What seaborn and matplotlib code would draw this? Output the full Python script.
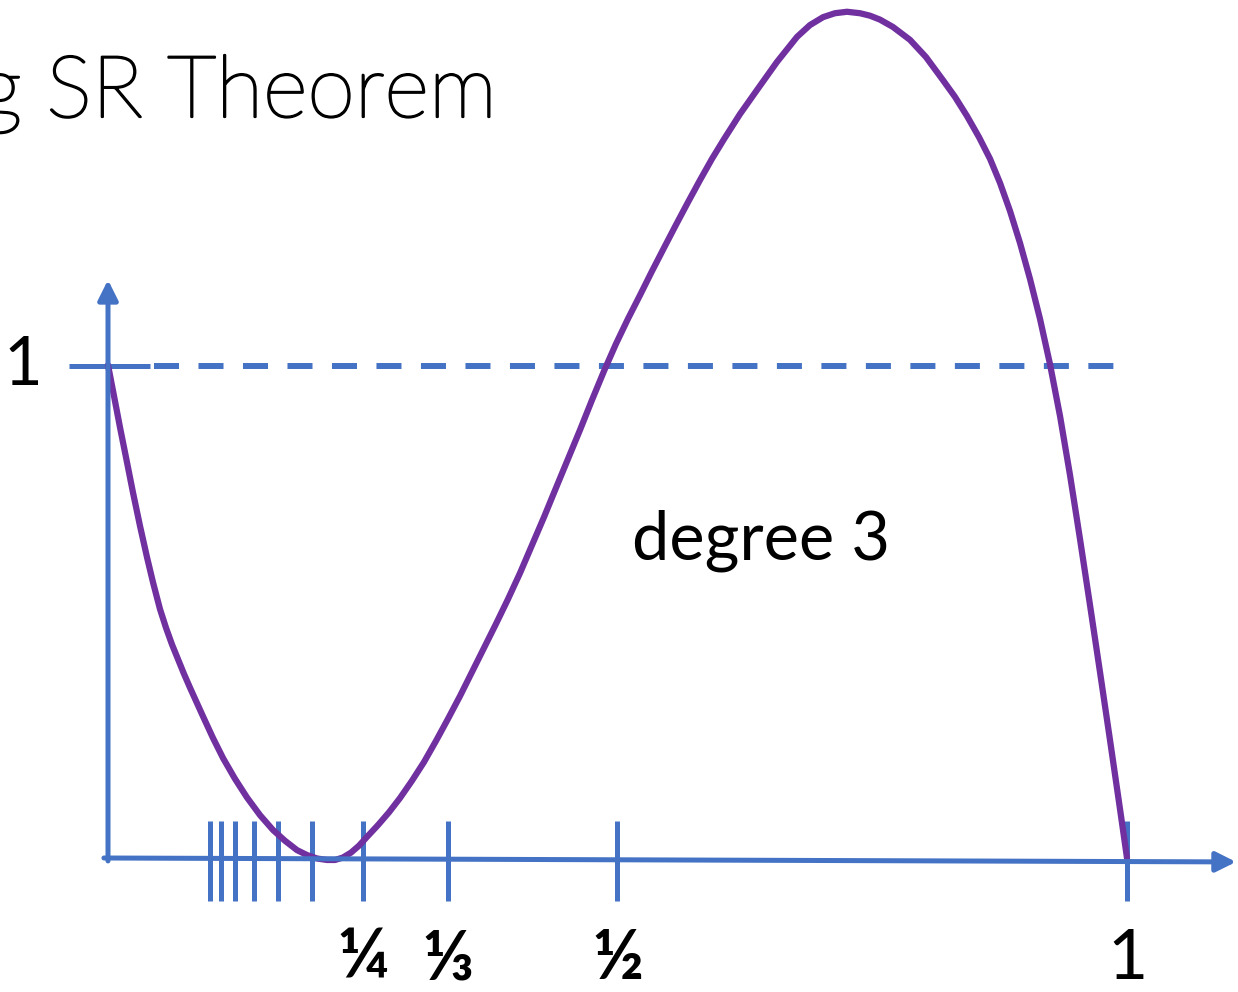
import matplotlib
matplotlib.use("Agg")
import matplotlib.pyplot as plt
import matplotlib.patheffects as pe
import seaborn as sns
import pandas as pd

# curve (x in units of the axis, y in units of the dashed "1" line)
curve_x = [0.000, 0.0059, 0.0118, 0.0177, 0.0245, 0.0314, 0.0383, 0.0442, 0.0510, 0.0569,
           0.0628, 0.0687, 0.0746, 0.0805, 0.0864, 0.0932, 0.1030, 0.1129, 0.1246, 0.1364,
           0.1492, 0.1619, 0.1737, 0.1855, 0.1953, 0.2051, 0.2149, 0.2228,
           0.2306, 0.2385, 0.2463, 0.2542, 0.2650, 0.2758, 0.2866, 0.2983, 0.3101, 0.3219,
           0.3337, 0.3454, 0.3572, 0.3690, 0.3808, 0.3925, 0.4043, 0.4161, 0.4279, 0.4396,
           0.4514, 0.4632, 0.4750, 0.4868, 0.4985, 0.5103, 0.5221, 0.5339, 0.5456, 0.5574,
           0.5692, 0.5810, 0.5927, 0.6045, 0.6202, 0.6369, 0.6565, 0.6762, 0.6889, 0.7017,
           0.7134, 0.7252,
           0.7380, 0.7478, 0.7576, 0.7704, 0.7870, 0.8027, 0.8194, 0.8312, 0.8430, 0.8548,
           0.8656, 0.8754, 0.8852, 0.8950, 0.9048, 0.9146, 0.9244, 0.9343, 0.9441, 0.9539,
           0.9637, 0.9735, 0.9833, 0.9931, 1.0000]
curve_y = [1.002, 0.939, 0.875, 0.814, 0.743, 0.675, 0.611, 0.560, 0.506, 0.468,
           0.434, 0.404, 0.374, 0.346, 0.319, 0.288, 0.244, 0.203, 0.161, 0.123,
           0.087, 0.057, 0.035, 0.016, 0.006, -0.001, -0.004, -0.004,
           0.001, 0.011, 0.025, 0.043, 0.067, 0.093, 0.122, 0.157, 0.195, 0.238,
           0.283, 0.329, 0.378, 0.427, 0.476, 0.526, 0.579, 0.636, 0.693, 0.752,
           0.811, 0.870, 0.931, 0.990, 1.045, 1.096, 1.144, 1.193, 1.240, 1.287,
           1.333, 1.378, 1.421, 1.461, 1.512, 1.561, 1.618, 1.669, 1.693, 1.709,
           1.717, 1.720,
           1.717, 1.712, 1.704, 1.689, 1.663, 1.628, 1.581, 1.547, 1.508, 1.465,
           1.421, 1.372, 1.315, 1.250, 1.177, 1.096, 1.004, 0.898, 0.778, 0.648,
           0.514, 0.378, 0.240, 0.100, 0.000]

tick_pos = [1/10, 1/9, 1/8, 1/7, 1/6, 1/5, 1/4, 1/3, 1/2, 1]
frac_labels = {1/4: "¼", 1/3: "⅓", 1/2: "½"}

title_text = "g SR Theorem"
note_text = "degree 3"

BLUE = "#4472C4"
PURPLE = "#7030A0"

sns.set_style("white")
plt.rcParams["font.family"] = ["Lato", "DejaVu Sans"]

# pixel -> data mapping: x=0 at px 108, x=1 at px 1127; y=0 at py 858, y=1 at py 366
X0, XS = 108, 1019
Y0, YS = 858, 492

fig = plt.figure(figsize=(12.38, 9.92), dpi=100)
ax = fig.add_axes([0, 0, 1, 1])
ax.set_xlim(-X0 / XS, (1238 - X0) / XS)
ax.set_ylim((Y0 - 992) / YS, Y0 / YS)
ax.axis("off")

# axes with arrows
arrow = dict(arrowstyle="-|>", color=BLUE, lw=3.6, mutation_scale=30,
             shrinkA=0, shrinkB=0)
ax.annotate("", xy=(0, 1.175), xytext=(0, -0.006), arrowprops=arrow)
ax.annotate("", xy=(1.107, -0.008), xytext=(-0.004, 0), arrowprops=arrow)

# ticks on the x axis
ax.vlines(tick_pos, -0.087, 0.075, color=BLUE, lw=3.6)
# tick at 1 on the y axis, then the dashed level line
ax.hlines(1.0, -0.038, 0.041, color=BLUE, lw=3.6)
ax.plot([0.045, 0.988], [1.0, 1.0], color=BLUE, lw=4.3,
        linestyle=(0, (4.19, 3.26)))

df = pd.DataFrame({"x": curve_x, "y": curve_y})
sns.lineplot(data=df, x="x", y="y", sort=False, estimator=None,
             color=PURPLE, lw=4.5, ax=ax)
ax.lines[-1].set_solid_joinstyle("round")
ax.lines[-1].set_solid_capstyle("round")

label_y = (Y0 - 991) / YS
for pos, lab in frac_labels.items():
    ax.text(pos, label_y, lab, ha="center", va="bottom",
            fontsize=50, fontweight="bold", color="black")
ax.text(1.0, label_y, "1", ha="center", va="bottom", fontsize=50, color="black")
ax.text(-0.084, 1.0, "1", ha="center", va="center", fontsize=48, color="black")

ax.text((632 - X0) / XS, (Y0 - 560) / YS, note_text, ha="left", va="baseline",
        fontsize=48, color="black")

fig.text(497 / 1238, 1 - 117 / 992, title_text, ha="right", va="baseline",
         fontsize=62, fontweight="light", color="black",
         path_effects=[pe.withStroke(linewidth=1.6, foreground="black")])

fig.savefig("out.png", dpi=100)
